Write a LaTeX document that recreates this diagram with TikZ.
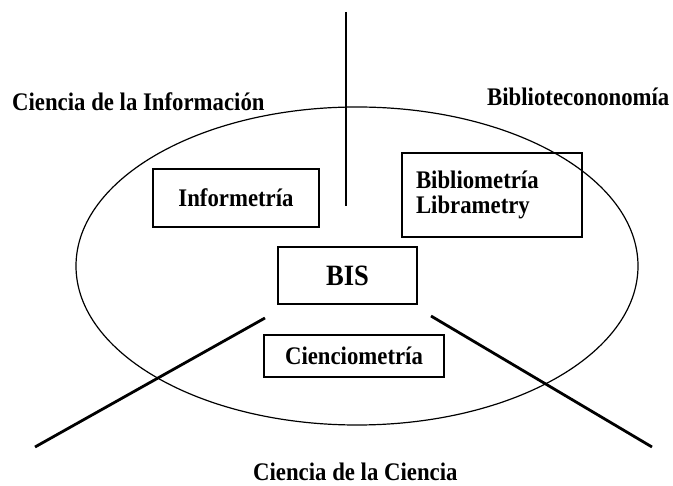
\documentclass[tikz,border=0pt]{standalone}
\usepackage{fontspec}
\setmainfont{Liberation Serif}
\newfontfamily\narrowbold[FakeStretch=0.9,BoldFont={Liberation Serif Bold}]{Liberation Serif}
\begin{document}
\begin{tikzpicture}[x=1pt,y=-1pt,
  lbl/.style={font=\narrowbold\bfseries\fontsize{25.3}{25}\selectfont, inner sep=0pt},
  fieldbox/.style={draw, line width=1.3pt, font=\narrowbold\bfseries\fontsize{25.3}{25}\selectfont, inner sep=0pt},
  divider/.style={line width=2.8pt},
  outline/.style={line width=1.2pt}]
\useasboundingbox (0,0) rectangle (673,486);
% ellipse
\draw[outline] (357,266) ellipse [x radius=281, y radius=159];
% dividing lines
\coordinate (vtop) at (346,12);
\coordinate (vbot) at (346,206);
\coordinate (ltop) at (265,318);
\coordinate (lbot) at (35,447);
\coordinate (rtop) at (431,316);
\coordinate (rbot) at (652,447);
\draw[divider] (vtop) -- (vbot);
\draw[divider] (ltop) -- (lbot);
\draw[divider] (rtop) -- (rbot);
% outer labels
\node[lbl, anchor=base west] (ci) at (12,111) {Ciencia de la Información};
\node[lbl, anchor=base west] (bib) at (487,106) {Bibliotecononomía};
\node[lbl, anchor=base west] (cc) at (253,481) {Ciencia de la Ciencia};
% boxes
\node[fieldbox, minimum width=166, minimum height=58] (inf) at (236,198) {Informetría};
\node[fieldbox, text width=152, inner xsep=14pt, align=left, minimum height=84] (bm) at (492,195) {Bibliometría\\Librametry};
\node[fieldbox, minimum width=139, minimum height=57, font=\narrowbold\bfseries\fontsize{29.5}{30}\selectfont] (bis) at (347.5,275.5) {BIS};
\node[fieldbox, minimum width=180, minimum height=42] (cm) at (354,356) {Cienciometría};
\end{tikzpicture}
\end{document}
